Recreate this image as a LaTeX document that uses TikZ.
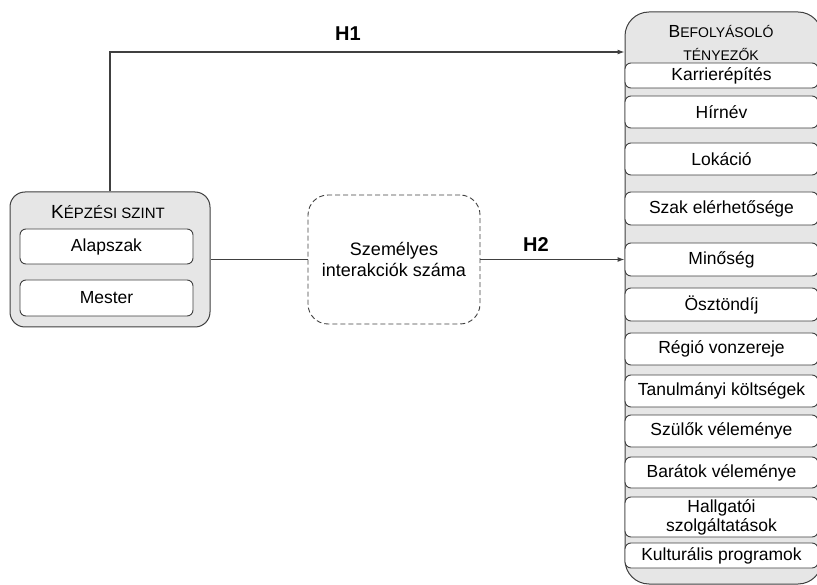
\documentclass[tikz,border=0pt]{standalone}
\usepackage{fontspec}
\setmainfont{Liberation Sans}
\usepackage{tikz}
\usetikzlibrary{arrows.meta}
\definecolor{BoxGray}{HTML}{E6E6E6}
\definecolor{EdgeGray}{HTML}{404040}
\newcommand{\capsc}[4]{{\fontsize{#1}{20}\selectfont #3}{\fontsize{#2}{20}\selectfont #4}}

\begin{document}
\begin{tikzpicture}[x=1pt,y=-1pt,
  group/.style={draw=EdgeGray,fill=BoxGray,line width=1pt,rounded corners=15pt,inner sep=0pt},
  item/.style={draw=EdgeGray,fill=white,line width=0.9pt,rounded corners=6pt,inner sep=0pt,align=center,font=\fontsize{17.5}{19}\selectfont},
  link/.style={draw=EdgeGray,line width=1.1pt},
  tip/.style={-{Latex[length=7pt,width=5pt]}},
  hyp/.style={font=\bfseries\fontsize{20}{22}\selectfont}]
  \useasboundingbox (0,0) rectangle (817,585);
  \clip (0,0) rectangle (817,585);

  % level of training
  \node[group,minimum width=200pt,minimum height=135pt] (level) at (110,259.5) {};
  \node (levelTitle) at (108,212) {\capsc{19}{15}{K}{ÉPZÉSI SZINT}};
  \node[item,minimum width=173pt,minimum height=35pt] (alap) at (106.5,246.5) {Alapszak};
  \node[item,minimum width=173pt,minimum height=36pt] (mester) at (106.5,298) {Mester};

  % mediator
  \node[draw=EdgeGray,dash pattern=on 5pt off 3pt,line width=0.9pt,rounded corners=20pt,minimum width=172pt,minimum height=129pt,
    align=center,font=\fontsize{18}{21}\selectfont] (inter) at (394,259.5) {Személyes\\interakciók száma};

  % influencing factors
  \node[group,rounded corners=24pt,minimum width=197pt,minimum height=572pt] (factors) at (723.5,298) {};
  \node[align=center,font=\fontsize{14}{23}\selectfont] (factTitle) at (721,43) {\capsc{17.5}{14}{B}{EFOLYÁSOLÓ}\\TÉNYEZŐK};
  \foreach \nm/\ya/\yb/\txt in {karrier/63/88/Karrierépítés, hirnev/96/128/Hírnév, lokacio/143/175/Lokáció,
      szak/192/225/Szak elérhetősége, minoseg/243/276/Minőség, osztondij/288/321/Ösztöndíj,
      regio/333/365/Régió vonzereje, koltseg/375/407/Tanulmányi költségek, szulok/415/447/Szülők véleménye,
      baratok/457/488/Barátok véleménye, hallgatoi/497/537/{Hallgatói\\szolgáltatások},
      kultura/543/568/Kulturális programok}
    \node[item,minimum width=193pt,minimum height={(\yb-\ya)*1pt}] (\nm) at (721.5,{(\ya+\yb)/2}) {\txt};

  % hypotheses
  \coordinate (h1end) at (factors.west |- 0,52);
  \draw[link,tip] (level.north) |- (h1end);
  \node[hyp] (h1) at (348,34) {H1};
  \draw[link] (level.east) -- (inter.west);
  \draw[link,tip] (inter.east) -- (minoseg.west);
  \node[hyp] (h2) at (536,245) {H2};
\end{tikzpicture}
\end{document}
